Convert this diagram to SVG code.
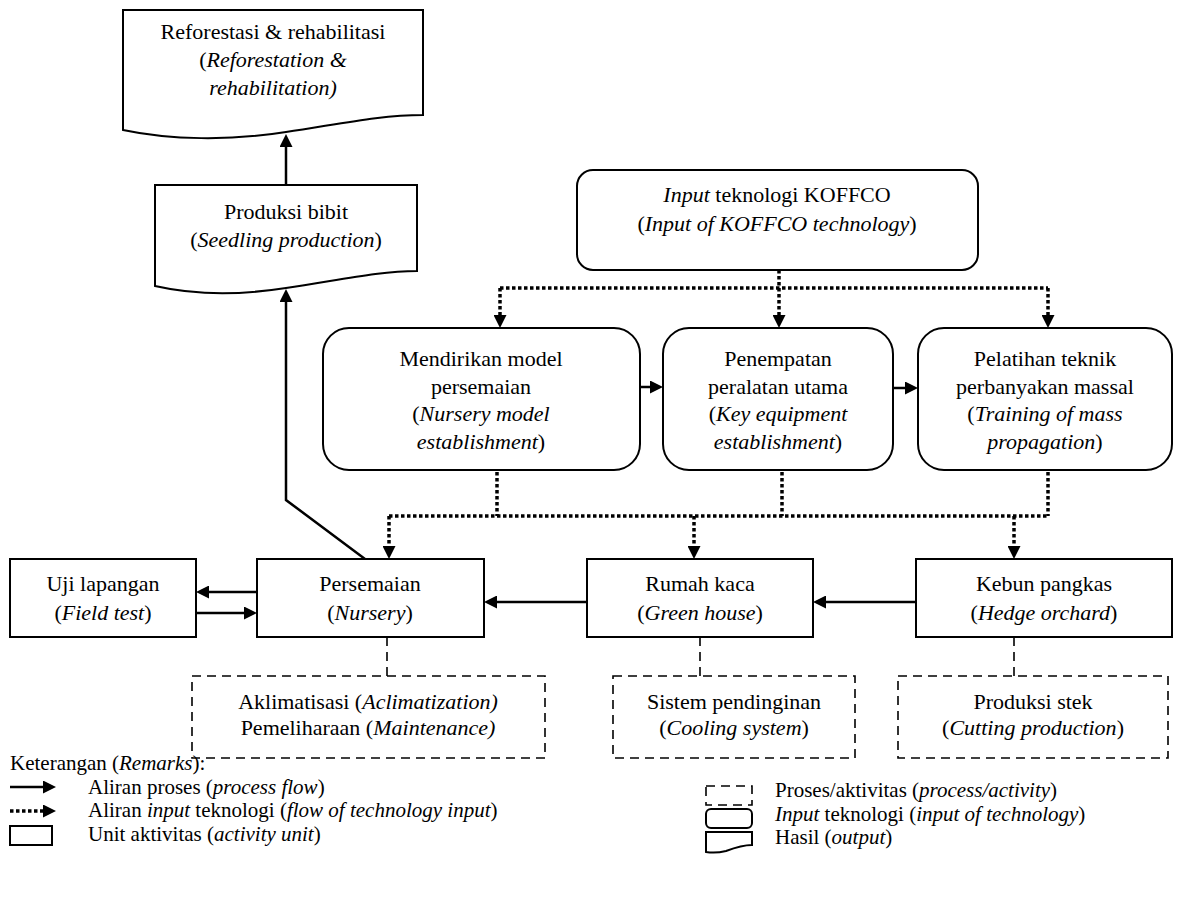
<svg xmlns="http://www.w3.org/2000/svg" width="1186" height="901" viewBox="0 0 1186 901">
<style>
text{font-family:"Liberation Serif","Times New Roman",serif;font-size:22px;fill:#000;text-anchor:middle}
.l{text-anchor:start;font-size:21px}
.i{font-style:italic}
.box{fill:#fff;stroke:#000;stroke-width:2}
.dash{fill:none;stroke:#000;stroke-width:1.6;stroke-dasharray:9 6}
.solid{fill:none;stroke:#000;stroke-width:2.5}
.dot{fill:none;stroke:#000;stroke-width:3.5;stroke-dasharray:3.5 2.5}
</style>
<defs>
<marker id="ah" markerUnits="userSpaceOnUse" viewBox="0 0 13 13" refX="0" refY="6.5" markerWidth="13" markerHeight="13" orient="auto">
<path d="M0,0 L13,6.5 L0,13 Z" fill="#000"/>
</marker>
</defs>

<g id="connectors">
<line class="solid" x1="286" y1="185" x2="286" y2="147" marker-end="url(#ah)"/>
<polyline class="solid" points="365,559 286,500 286,302" marker-end="url(#ah)"/>
<line class="solid" x1="640" y1="387" x2="650" y2="387" marker-end="url(#ah)"/>
<line class="solid" x1="893" y1="388" x2="905" y2="388" marker-end="url(#ah)"/>
<line class="solid" x1="257" y1="592" x2="209" y2="592" marker-end="url(#ah)"/>
<line class="solid" x1="196" y1="613" x2="244" y2="613" marker-end="url(#ah)"/>
<line class="solid" x1="587" y1="602" x2="497" y2="602" marker-end="url(#ah)"/>
<line class="solid" x1="916" y1="602" x2="826" y2="602" marker-end="url(#ah)"/>

<line class="dot" x1="779" y1="270" x2="779" y2="315" marker-end="url(#ah)"/>
<line class="dot" x1="500" y1="288" x2="1048" y2="288"/>
<line class="dot" x1="500" y1="288" x2="500" y2="315" marker-end="url(#ah)"/>
<line class="dot" x1="1048" y1="288" x2="1048" y2="315" marker-end="url(#ah)"/>

<line class="dot" x1="497" y1="472" x2="497" y2="516"/>
<line class="dot" x1="782" y1="472" x2="782" y2="516"/>
<line class="dot" x1="1048" y1="472" x2="1048" y2="516"/>
<line class="dot" x1="389" y1="516" x2="1048" y2="516"/>
<line class="dot" x1="389" y1="516" x2="389" y2="546" marker-end="url(#ah)"/>
<line class="dot" x1="694" y1="516" x2="694" y2="546" marker-end="url(#ah)"/>
<line class="dot" x1="1014" y1="516" x2="1014" y2="546" marker-end="url(#ah)"/>

<line class="dash" x1="387" y1="637" x2="387" y2="676"/>
<line class="dash" x1="700" y1="637" x2="700" y2="676"/>
<line class="dash" x1="1014" y1="637" x2="1014" y2="676"/>
</g>

<g id="reforestasi">
<path class="box" d="M123,130 V10 H423 V115 C380,115 340,124 286,132 C230,141 170,140 123,130 Z"/>
<text x="273" y="39">Reforestasi &amp; rehabilitasi</text>
<text x="273" y="67">(<tspan class="i">Reforestation &amp;</tspan></text>
<text x="273" y="95" class="i">rehabilitation)</text>
</g>

<g id="produksi-bibit">
<path class="box" d="M155,286 V185 H417 V271 C380,271 340,280 286,288 C235,296 190,294 155,286 Z"/>
<text x="286" y="219">Produksi bibit</text>
<text x="286" y="247">(<tspan class="i">Seedling production</tspan>)</text>
</g>

<g id="input-koffco">
<rect class="box" x="577" y="170" width="401" height="100" rx="16"/>
<text x="777" y="202"><tspan class="i">Input</tspan> teknologi KOFFCO</text>
<text x="777" y="231">(<tspan class="i">Input of KOFFCO technology</tspan>)</text>
</g>

<g id="mendirikan">
<rect class="box" x="323" y="328" width="317" height="142" rx="26"/>
<text x="481" y="366">Mendirikan model</text>
<text x="481" y="394">persemaian</text>
<text x="481" y="421">(<tspan class="i">Nursery model</tspan></text>
<text x="481" y="449"><tspan class="i">establishment</tspan>)</text>
</g>

<g id="penempatan">
<rect class="box" x="663" y="328" width="230" height="142" rx="26"/>
<text x="778" y="366">Penempatan</text>
<text x="778" y="394">peralatan utama</text>
<text x="778" y="421">(<tspan class="i">Key equipment</tspan></text>
<text x="778" y="449"><tspan class="i">establishment</tspan>)</text>
</g>

<g id="pelatihan">
<rect class="box" x="918" y="328" width="254" height="142" rx="26"/>
<text x="1045" y="366">Pelatihan teknik</text>
<text x="1045" y="394">perbanyakan massal</text>
<text x="1045" y="421">(<tspan class="i">Training of mass</tspan></text>
<text x="1045" y="449"><tspan class="i">propagation</tspan>)</text>
</g>

<g id="uji-lapangan">
<rect class="box" x="10" y="559" width="186" height="78"/>
<text x="103" y="591">Uji lapangan</text>
<text x="103" y="620">(<tspan class="i">Field test</tspan>)</text>
</g>

<g id="persemaian">
<rect class="box" x="257" y="559" width="227" height="78"/>
<text x="370" y="591">Persemaian</text>
<text x="370" y="620">(<tspan class="i">Nursery</tspan>)</text>
</g>

<g id="rumah-kaca">
<rect class="box" x="587" y="559" width="226" height="78"/>
<text x="700" y="591">Rumah kaca</text>
<text x="700" y="620">(<tspan class="i">Green house</tspan>)</text>
</g>

<g id="kebun-pangkas">
<rect class="box" x="916" y="559" width="256" height="78"/>
<text x="1044" y="591">Kebun pangkas</text>
<text x="1044" y="620">(<tspan class="i">Hedge orchard</tspan>)</text>
</g>

<g id="aklimatisasi">
<rect class="dash" x="192" y="676" width="353" height="82"/>
<text x="368" y="709">Aklimatisasi (<tspan class="i">Aclimatization)</tspan></text>
<text x="368" y="735">Pemeliharaan (<tspan class="i">Maintenance)</tspan></text>
</g>

<g id="sistem-pendinginan">
<rect class="dash" x="613" y="676" width="242" height="82"/>
<text x="734" y="709">Sistem pendinginan</text>
<text x="734" y="735">(<tspan class="i">Cooling system</tspan>)</text>
</g>

<g id="produksi-stek">
<rect class="dash" x="898" y="676" width="270" height="82"/>
<text x="1033" y="709">Produksi stek</text>
<text x="1033" y="735">(<tspan class="i">Cutting production</tspan>)</text>
</g>

<g id="legend">
<text class="l" x="10" y="770">Keterangan (<tspan class="i">Remarks</tspan>):</text>
<line class="solid" x1="10" y1="787" x2="43" y2="787" marker-end="url(#ah)"/>
<text class="l" x="88" y="793.5">Aliran proses (<tspan class="i">process flow</tspan>)</text>
<line class="dot" x1="10" y1="811" x2="43" y2="811" stroke-width="3" marker-end="url(#ah)"/>
<text class="l" x="88" y="817">Aliran <tspan class="i">input</tspan> teknologi (<tspan class="i">flow of technology input</tspan>)</text>
<rect class="box" x="10" y="826" width="42" height="19" stroke-width="1.5"/>
<text class="l" x="88" y="840.5">Unit aktivitas (<tspan class="i">activity unit</tspan>)</text>

<rect class="dash" x="706" y="786" width="46" height="19" stroke-dasharray="7 5"/>
<text class="l" x="775" y="797">Proses/aktivitas (<tspan class="i">process/activity</tspan>)</text>
<rect class="box" x="706" y="809" width="46" height="19" rx="5" stroke-width="1.5"/>
<text class="l" x="775" y="820.5"><tspan class="i">Input</tspan> teknologi (<tspan class="i">input of technology</tspan>)</text>
<path class="box" stroke-width="1.5" d="M706,852 V832 H752 V845 C742,845 734,848 726,851 C718,853 712,853 706,852 Z"/>
<text class="l" x="775" y="844">Hasil (<tspan class="i">output</tspan>)</text>
</g>
</svg>
